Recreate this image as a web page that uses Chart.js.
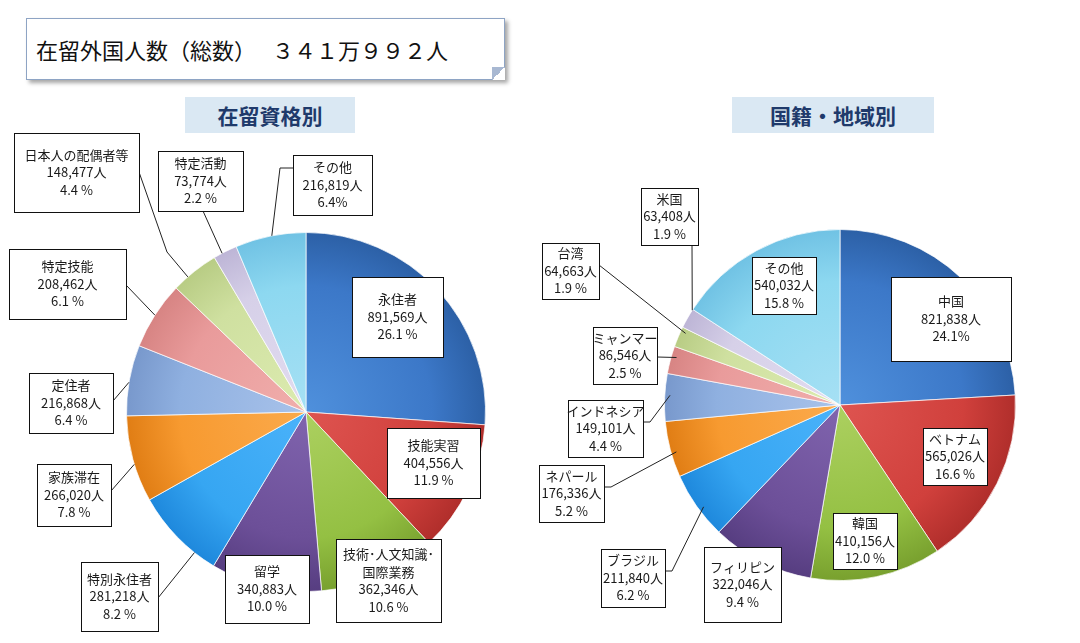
<!DOCTYPE html>
<html lang="ja">
<head>
<meta charset="UTF-8" />
<title>在留外国人数</title>
<script src="https://cdn.jsdelivr.net/npm/chart.js"></script>
<style>
  html, body { margin: 0; padding: 0; background: #fff; }
  body { width: 1080px; height: 643px; position: relative; overflow: hidden;
         font-family: "Noto Sans CJK JP", "Noto Sans", sans-serif; }
  .headline {
    position: absolute; left: 26px; top: 18px; width: 468px; height: 60px;
    border: 1px solid #8ea4c4; background: #fff;
    box-shadow: 3px 3px 4px rgba(0,0,0,0.35);
    font-size: 22px; line-height: 60px; color: #111; padding-left: 9px; box-sizing: content-box;
    white-space: pre;
  }
  .headline::after {
    content: ""; position: absolute; right: -1px; bottom: -1px; width: 13px; height: 13px;
    background: linear-gradient(to top left, #fff 50%, #a8b8d2 50%);
  }
  .sub {
    position: absolute; top: 97px; height: 36px; line-height: 36px; text-align: center;
    background: #dae8f3; color: #1f3a6b; font-size: 21px; font-weight: bold;
  }
  canvas { position: absolute; top: 0; }
</style>
</head>
<body>
  <div class="headline">在留外国人数（総数）　 ３４１万９９２人</div>
  <div class="sub" style="left:185px;width:170px;">在留資格別</div>
  <div class="sub" style="left:732px;width:202px;">国籍・地域別</div>

  <canvas id="statusChart" width="540" height="643" style="left:0"></canvas>
  <canvas id="nationChart" width="550" height="643" style="left:530px"></canvas>

<script>
// ---- data: by residence status ----
const statusNames = ["永住者", "技能実習", "技術･人文知識･\n国際業務", "留学", "特別永住者", "家族滞在",
  "定住者", "特定技能", "日本人の配偶者等", "特定活動", "その他"];
const statusCounts = [891569, 404556, 362346, 340883, 281218, 266020, 216868, 208462, 148477, 73774, 216819];
const statusPct = ["26.1 %", "11.9 %", "10.6 %", "10.0 %", "8.2 %", "7.8 %", "6.4 %", "6.1 %", "4.4 %", "2.2 %", "6.4%"];

// ---- data: by nationality / region ----
const nationNames = ["中国", "ベトナム", "韓国", "フィリピン", "ブラジル", "ネパール", "インドネシア",
  "ミャンマー", "台湾", "米国", "その他"];
const nationCounts = [821838, 565026, 410156, 322046, 211840, 176336, 149101, 86546, 64663, 63408, 540032];
const nationPct = ["24.1%", "16.6 %", "12.0 %", "9.4 %", "6.2 %", "5.2 %", "4.4 %", "2.5 %", "1.9 %", "1.9 %", "15.8 %"];

// slice colours [light, base, dark]
const palette = [
  ["#4f90dc", "#3c78c8", "#2c60a6"],
  ["#de5450", "#d0403c", "#b02e2b"],
  ["#acd060", "#94c043", "#78a02e"],
  ["#8064ae", "#6c4f98", "#563d80"],
  ["#4ab2fa", "#36a6f2", "#1e88dc"],
  ["#fbaa4c", "#f79a30", "#e07d14"],
  ["#a8c2ea", "#8fb0e0", "#7898cc"],
  ["#f0aeac", "#e99b9b", "#d78483"],
  ["#dcebb0", "#cfe0a0", "#b8cc84"],
  ["#e2dcf0", "#d6d0e8", "#bdb5d6"],
  ["#a6e0f4", "#8dd8f0", "#70c2e4"]
];

// label box layout (canvas px): x, y, w, h, attach point, optional elbow, position along slice t, radius factor f
const statusBoxes = [
  { x: 352, y: 277, w: 91, h: 80 },
  { x: 387, y: 428, w: 93, h: 70 },
  { x: 336, y: 539, w: 105, h: 83 },
  { x: 225, y: 555, w: 84, h: 68 },
  { x: 81, y: 562, w: 77, h: 69, a: [158, 598], t: 0.25, f: 1.0 },
  { x: 37, y: 464, w: 74, h: 62, a: [111, 491], t: 0.44, f: 1.0 },
  { x: 29, y: 373, w: 84, h: 60, a: [113, 401], t: 0.47, f: 1.0 },
  { x: 9, y: 249, w: 117, h: 70, a: [126, 285], t: 0.5, f: 1.0 },
  { x: 14, y: 133, w: 125, h: 79, a: [139, 172], via: [167, 252], t: 0.33, f: 1.0 },
  { x: 158, y: 151, w: 85, h: 60, a: [203, 211], t: 0.36, f: 1.0 },
  { x: 293, y: 155, w: 79, h: 60, a: [293, 168], via: [280, 168], t: 0.52, f: 1.0 }
];
const nationBoxes = [
  { x: 361, y: 277, w: 120, h: 84 },
  { x: 393, y: 428, w: 64, h: 57 },
  { x: 303, y: 513, w: 64, h: 56 },
  { x: 174, y: 547, w: 77, h: 75 },
  { x: 71, y: 549, w: 64, h: 58, a: [135, 571], via: [142, 571], t: 0.43, f: 0.97 },
  { x: 9, y: 465, w: 65, h: 57, a: [74, 487], via: [81, 487], t: 0.43, f: 0.97 },
  { x: 38, y: 400, w: 75, h: 57, a: [113, 422], via: [120, 422], t: 0.55, f: 0.97 },
  { x: 63, y: 327, w: 64, h: 57, a: [127, 357], t: 0.64, f: 0.97 },
  { x: 12, y: 243, w: 57, h: 56, a: [69, 265], t: 0.79, f: 0.97 },
  { x: 111, y: 188, w: 57, h: 57, a: [162, 245], t: 0.95, f: 1.0 },
  { x: 222, y: 257, w: 64, h: 57 }
];

function sliceFill(c) {
  const ch = c.chart, a = ch.chartArea, col = palette[c.dataIndex % palette.length];
  if (!a) return col[1];
  const cx = (a.left + a.right) / 2, cy = (a.top + a.bottom) / 2;
  const r = Math.min(a.right - a.left, a.bottom - a.top) / 2;
  const g = ch.ctx.createRadialGradient(cx, cy, 0, cx, cy, r);
  g.addColorStop(0, col[0]);
  g.addColorStop(0.7, col[1]);
  g.addColorStop(1, col[2]);
  return g;
}

const calloutPlugin = {
  id: "callouts",
  afterDraw(chart, args, opts) {
    const ctx = chart.ctx;
    const meta = chart.getDatasetMeta(0);
    const ds = chart.data.datasets[0];
    ctx.save();
    // leader lines
    ctx.strokeStyle = "#222";
    ctx.lineWidth = 1;
    opts.boxes.forEach((b, i) => {
      if (!b.a) return;
      const p = meta.data[i].getProps(["x", "y", "startAngle", "endAngle", "outerRadius"], true);
      const ang = p.startAngle + (b.t ?? 0.5) * (p.endAngle - p.startAngle);
      const ex = p.x + Math.cos(ang) * p.outerRadius * (b.f ?? 1);
      const ey = p.y + Math.sin(ang) * p.outerRadius * (b.f ?? 1);
      ctx.beginPath();
      ctx.moveTo(b.a[0], b.a[1]);
      if (b.via) ctx.lineTo(b.via[0], b.via[1]);
      ctx.lineTo(ex, ey);
      ctx.stroke();
    });
    // boxes and text
    ctx.font = '13px "Noto Sans CJK JP", "Noto Sans", sans-serif';
    ctx.textAlign = "center";
    ctx.textBaseline = "middle";
    opts.boxes.forEach((b, i) => {
      ctx.fillStyle = "#fff";
      ctx.fillRect(b.x, b.y, b.w, b.h);
      ctx.strokeStyle = "#111";
      ctx.strokeRect(b.x + 0.5, b.y + 0.5, b.w, b.h);
      const lines = chart.data.labels[i].split("\n");
      lines.push(ds.data[i].toLocaleString("en-US") + "人");
      lines.push(opts.pct[i]);
      const lh = 17.5;
      const top = b.y + b.h / 2 - (lines.length - 1) * lh / 2;
      ctx.fillStyle = "#1a1a1a";
      lines.forEach((s, k) => ctx.fillText(s, b.x + b.w / 2, top + k * lh));
    });
    ctx.restore();
  }
};

function makePie(id, names, counts, pct, boxes, pad) {
  return new Chart(document.getElementById(id), {
    type: "pie",
    data: {
      labels: names,
      datasets: [{
        data: counts,
        backgroundColor: sliceFill,
        borderColor: "rgba(255,255,255,0.7)",
        borderWidth: 1
      }]
    },
    options: {
      responsive: false,
      animation: false,
      layout: { padding: pad },
      plugins: {
        legend: { display: false },
        tooltip: { enabled: false },
        callouts: { boxes: boxes, pct: pct }
      }
    },
    plugins: [calloutPlugin]
  });
}

makePie("statusChart", statusNames, statusCounts, statusPct, statusBoxes,
  { left: 126, right: 54, top: 232, bottom: 51 });
makePie("nationChart", nationNames, nationCounts, nationPct, nationBoxes,
  { left: 134, right: 64, top: 229, bottom: 62 });
</script>
</body>
</html>
